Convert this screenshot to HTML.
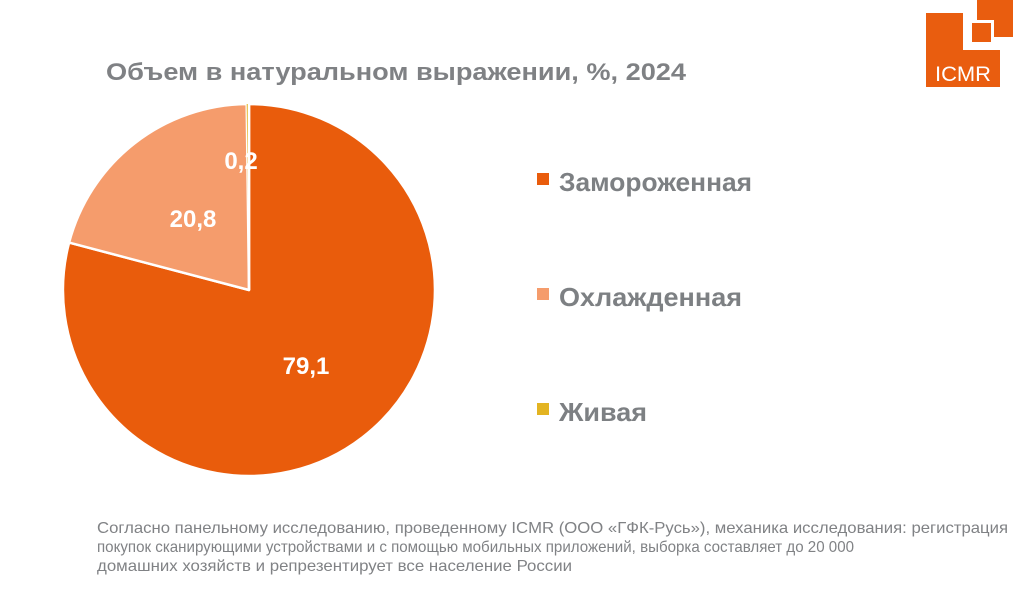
<!DOCTYPE html>
<html><head><meta charset="utf-8"><style>
html,body{margin:0;padding:0;background:#fff;}
svg{display:block;}
text{font-family:"Liberation Sans",sans-serif;}
</style></head><body>
<svg width="1024" height="593" viewBox="0 0 1024 593" xmlns="http://www.w3.org/2000/svg">
<rect width="1024" height="593" fill="#fff"/>
<rect x="977" y="0" width="36" height="37" fill="#E95D0F"/>
<path d="M926 13 H963 V50 H1000 V87 H926 Z" fill="#E95D0F"/>
<rect x="970.5" y="21.5" width="22" height="22" fill="#E95D0F" stroke="#fff" stroke-width="3"/>
<text x="963" y="81" font-size="21" fill="#fff" text-anchor="middle" textLength="56" lengthAdjust="spacingAndGlyphs">ICMR</text>
<text x="106" y="80" font-size="24" font-weight="bold" fill="#7F8184" textLength="580" lengthAdjust="spacingAndGlyphs">Объем в натуральном выражении, %, 2024</text>
<path d="M249 290 L249 104 A186 186 0 1 1 69.1 242.6 Z" fill="#E95C0C" stroke="#fff" stroke-width="2.5" stroke-linejoin="round"/>
<path d="M249 290 L69.1 242.6 A186 186 0 0 1 246.7 104 Z" fill="#F59C6C" stroke="#fff" stroke-width="2.5" stroke-linejoin="round"/>
<path d="M249 290 L246.7 104 A186 186 0 0 1 249 104 Z" fill="#E3B422"/>
<line x1="249" y1="290" x2="249" y2="103" stroke="#fff" stroke-width="2.5"/>
<text x="306" y="374" font-size="24" font-weight="bold" fill="#fff" text-anchor="middle">79,1</text>
<text x="193" y="227" font-size="24" font-weight="bold" fill="#fff" text-anchor="middle">20,8</text>
<text x="241" y="169" font-size="24" font-weight="bold" fill="#fff" text-anchor="middle">0,2</text>
<rect x="537" y="173" width="12" height="12" fill="#E95C0C"/>
<text x="559" y="191" font-size="26" font-weight="bold" fill="#7D8083" textLength="193" lengthAdjust="spacingAndGlyphs">Замороженная</text>
<rect x="537" y="288" width="12" height="12" fill="#F59C6C"/>
<text x="559" y="306" font-size="26" font-weight="bold" fill="#7D8083" textLength="183" lengthAdjust="spacingAndGlyphs">Охлажденная</text>
<rect x="537" y="403" width="12" height="12" fill="#E3B422"/>
<text x="559" y="421" font-size="26" font-weight="bold" fill="#7D8083" textLength="88" lengthAdjust="spacingAndGlyphs">Живая</text>
<text x="97" y="533" font-size="16" fill="#808285" textLength="911" lengthAdjust="spacingAndGlyphs">Согласно панельному исследованию, проведенному ICMR (ООО «ГФК-Русь»), механика исследования: регистрация</text>
<text x="97" y="552" font-size="16" fill="#808285" textLength="757" lengthAdjust="spacingAndGlyphs">покупок сканирующими устройствами и с помощью мобильных приложений, выборка составляет до 20 000</text>
<text x="97" y="571" font-size="16" fill="#808285" textLength="475" lengthAdjust="spacingAndGlyphs">домашних хозяйств и репрезентирует все население России</text>
</svg>
</body></html>
